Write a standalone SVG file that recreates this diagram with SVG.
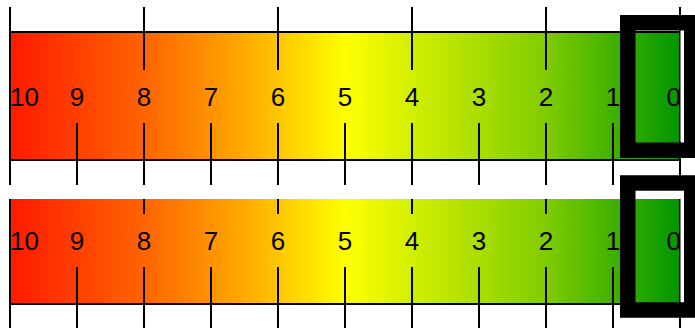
<svg xmlns="http://www.w3.org/2000/svg" width="695" height="328" viewBox="0 0 695 328">
  <defs>
    <linearGradient id="scale" gradientUnits="userSpaceOnUse" x1="10" y1="0" x2="680" y2="0">
      <stop offset="0" stop-color="#ff1a00"/>
      <stop offset="0.2" stop-color="#ff6400"/>
      <stop offset="0.35" stop-color="#ffaa00"/>
      <stop offset="0.5" stop-color="#ffff00"/>
      <stop offset="0.6" stop-color="#d2ef00"/>
      <stop offset="0.8" stop-color="#80cc00"/>
      <stop offset="1" stop-color="#009600"/>
    </linearGradient>
    <style>
      .bar { fill: url(#scale); }
      .ln { stroke: #000; stroke-width: 2; fill: none; }
      .lbl { font-family: "Liberation Sans", Arial, sans-serif; font-size: 26px; fill: #000; text-anchor: middle; }
      .hl { fill: none; stroke: #000; stroke-width: 15.5; }
    </style>
  </defs>
  <rect width="695" height="328" fill="#fff"/>

  <g id="scale-top">
    <rect class="bar" x="10" y="32" width="670" height="128"/>
    <path class="ln" d="M10 32H680M10 160H680"/>
    <path class="ln" d="M10 7V185M680 7V185
      M144 7V70M278 7V70M412 7V70M546 7V70
      M77 123V185M144 123V185M211 123V185M278 123V185M345 123V185M412 123V185M479 123V185M546 123V185M613 123V185"/>
    <text class="lbl" x="10" y="106" style="text-anchor:start">10</text>
    <text class="lbl" x="77" y="106">9</text>
    <text class="lbl" x="144" y="106">8</text>
    <text class="lbl" x="211" y="106">7</text>
    <text class="lbl" x="278" y="106">6</text>
    <text class="lbl" x="345" y="106">5</text>
    <text class="lbl" x="412" y="106">4</text>
    <text class="lbl" x="479" y="106">3</text>
    <text class="lbl" x="546" y="106">2</text>
    <text class="lbl" x="613" y="106">1</text>
    <text class="lbl" x="681" y="106" style="text-anchor:end">0</text>
  </g>

  <g id="scale-bottom">
    <rect class="bar" x="10" y="199" width="670" height="105"/>
    <path class="ln" d="M10 304H680"/>
    <path class="ln" d="M10 199V328M680 199V328
      M144 199V214M278 199V214M412 199V214M546 199V214
      M77 267V328M144 267V328M211 267V328M278 267V328M345 267V328M412 267V328M479 267V328M546 267V328M613 267V328"/>
    <text class="lbl" x="10" y="250" style="text-anchor:start">10</text>
    <text class="lbl" x="77" y="250">9</text>
    <text class="lbl" x="144" y="250">8</text>
    <text class="lbl" x="211" y="250">7</text>
    <text class="lbl" x="278" y="250">6</text>
    <text class="lbl" x="345" y="250">5</text>
    <text class="lbl" x="412" y="250">4</text>
    <text class="lbl" x="479" y="250">3</text>
    <text class="lbl" x="546" y="250">2</text>
    <text class="lbl" x="613" y="250">1</text>
    <text class="lbl" x="681" y="250" style="text-anchor:end">0</text>
  </g>

  <g id="highlight-top">
    <rect x="635" y="30" width="49" height="112" fill="#fff" opacity="0"/>
    <rect x="680.5" y="30" width="3.5" height="112" fill="#fff"/>
    <rect class="hl" x="627.75" y="22.75" width="64" height="127.5"/>
  </g>

  <g id="highlight-bottom">
    <rect x="635" y="191" width="49" height="8" fill="#fff"/>
    <rect x="680.5" y="191" width="3.5" height="111" fill="#fff"/>
    <rect class="hl" x="627.75" y="183" width="64" height="127"/>
  </g>
</svg>
